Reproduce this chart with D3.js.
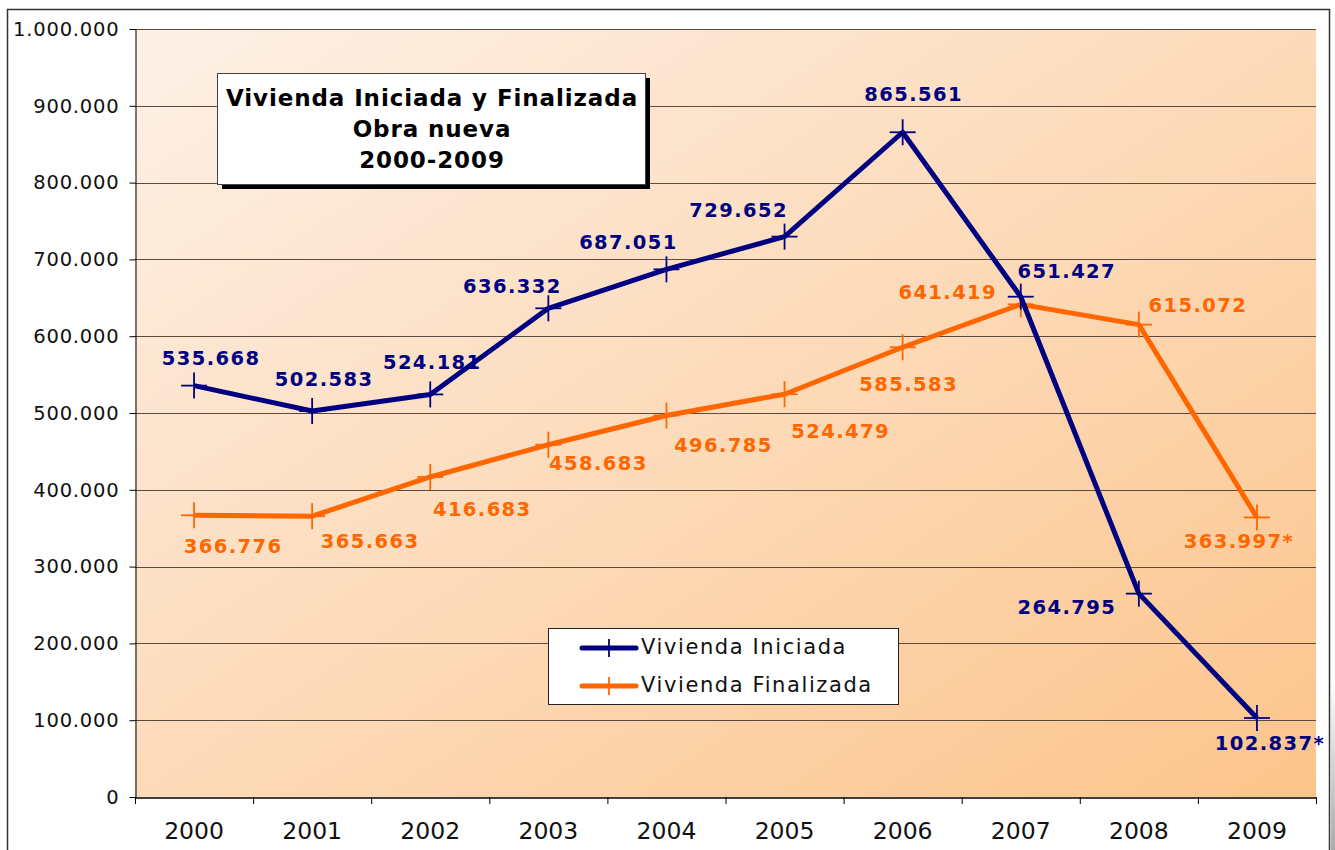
<!DOCTYPE html>
<html><head><meta charset="utf-8">
<script src="https://cdn.jsdelivr.net/npm/d3@7"></script>
<style>body{margin:0;background:#fff;}svg{display:block;font-family:"DejaVu Sans",Verdana,sans-serif;}</style>
</head><body>
<svg id="c" width="1335" height="850"></svg>
<script>
const years = ["2000","2001","2002","2003","2004","2005","2006","2007","2008","2009"];
const iniciada = [535668, 502583, 524181, 636332, 687051, 729652, 865561, 651427, 264795, 102837];
const finalizada = [366776, 365663, 416683, 458683, 496785, 524479, 585583, 641419, 615072, 363997];
const iniciadaLabels = ["535.668","502.583","524.181","636.332","687.051","729.652","865.561","651.427","264.795","102.837*"];
const finalizadaLabels = ["366.776","365.663","416.683","458.683","496.785","524.479","585.583","641.419","615.072","363.997*"];
const yTicks = [0,100000,200000,300000,400000,500000,600000,700000,800000,900000,1000000];
const seriesNames = ["Vivienda Iniciada","Vivienda Finalizada"];
const titleLines = ["Vivienda Iniciada y Finalizada","Obra nueva","2000-2009"];
// label placement offsets (layout, px) relative to each point
const iniOff = [[17,-26],[12,-31],[2,-31],[-36,-21],[-38,-26],[-46,-25],[11,-37],[46,-24],[-72,15],[13,26]];
const finOff = [[39,32],[58,26],[52,34],[50,20],[57,31],[56,38],[6,38],[-73,-11],[59,-18],[-18,25]];

const svg = d3.select("#c");
const L = 135, R = 1316, T = 29, B = 797;
const x = d3.scaleBand().domain(years).range([L, R]);
const y = d3.scaleLinear().domain([0, 1000000]).range([B, T]);
const fmt = v => v === 0 ? "0" : d3.format(",")(v).replace(/,/g, ".");

const defs = svg.append("defs");
const g1 = defs.append("linearGradient").attr("id","bg").attr("x1","0").attr("y1","0").attr("x2","1").attr("y2","1");
g1.append("stop").attr("offset","0%").attr("stop-color","#fdf1e7");
g1.append("stop").attr("offset","100%").attr("stop-color","#fcc48b");
const sh = defs.append("linearGradient").attr("id","sh").attr("x1","0").attr("y1","0").attr("x2","0").attr("y2","1");
sh.append("stop").attr("offset","0%").attr("stop-color","#fff");
sh.append("stop").attr("offset","100%").attr("stop-color","#aaa");

// outer frame
svg.append("rect").attr("x",1331).attr("y",680).attr("width",4).attr("height",170).attr("fill","url(#sh)");
svg.append("rect").attr("x",7.5).attr("y",9.5).attr("width",1322).attr("height",850).attr("fill","#fff").attr("stroke","#333").attr("stroke-width",1.5);

// plot area
svg.append("rect").attr("x",L).attr("y",T).attr("width",R-L).attr("height",B-T).attr("fill","url(#bg)");

// gridlines
svg.append("g").selectAll("line").data(yTicks.filter(d=>d>0)).join("line")
  .attr("x1",L).attr("x2",R).attr("y1",d=>Math.round(y(d))+0.5).attr("y2",d=>Math.round(y(d))+0.5)
  .attr("stroke","#5a4a40").attr("stroke-width",1.2);

// y axis
const ya = svg.append("g").attr("transform",`translate(${L+0.5},0)`)
  .call(d3.axisLeft(y).tickValues(yTicks).tickFormat(fmt).tickSize(6).tickSizeOuter(0));
ya.select(".domain").attr("stroke","#000");
ya.selectAll(".tick line").attr("stroke","#000");
ya.selectAll("text").attr("font-size",19.5).attr("fill","#111").attr("x",-16).attr("letter-spacing",0.8)
  .attr("font-family","'DejaVu Sans',Verdana,sans-serif");

// x axis
const xa = svg.append("g").attr("transform",`translate(0,${B+0.5})`)
  .call(d3.axisBottom(x).tickSize(0).tickSizeOuter(0));
xa.select(".domain").attr("stroke","#000").attr("stroke-width",1.5);
xa.selectAll("text").attr("font-size",23.5).attr("fill","#111").attr("dy","1.65em")
  .attr("font-family","'DejaVu Sans',Verdana,sans-serif");
// boundary ticks between categories
svg.append("g").selectAll("line").data(d3.range(years.length+1)).join("line")
  .attr("x1",i=>L+i*x.step()+0.5).attr("x2",i=>L+i*x.step()+0.5)
  .attr("y1",B).attr("y2",B+7).attr("stroke","#000").attr("stroke-width",1);

const cx = d => x(d) + x.bandwidth()/2;
const line = d3.line().x((d,i)=>cx(years[i])).y(d=>y(d));

function drawSeries(vals, color, labels, offs){
  svg.append("path").datum(vals).attr("d",line).attr("fill","none")
    .attr("stroke",color).attr("stroke-width",5).attr("stroke-linejoin","round");
  const m = svg.append("g");
  vals.forEach((v,i)=>{
    const px = cx(years[i]), py = y(v);
    m.append("line").attr("x1",px-13).attr("x2",px+13).attr("y1",py).attr("y2",py).attr("stroke",color).attr("stroke-width",1.8);
    m.append("line").attr("x1",px).attr("x2",px).attr("y1",py-13).attr("y2",py+13).attr("stroke",color).attr("stroke-width",1.8);
  });
  svg.append("g").selectAll("text").data(vals).join("text")
    .attr("x",(d,i)=>cx(years[i])+offs[i][0]).attr("y",(d,i)=>y(d)+offs[i][1])
    .attr("text-anchor","middle").attr("dominant-baseline","middle")
    .attr("font-size",19.5).attr("font-weight","bold").attr("letter-spacing",1.4)
    .attr("fill",color).text((d,i)=>labels[i]);
}
drawSeries(finalizada, "#ff6600", finalizadaLabels, finOff);
drawSeries(iniciada, "#000080", iniciadaLabels, iniOff);

// title box
const tb = svg.append("g");
tb.append("rect").attr("x",222).attr("y",78).attr("width",428).attr("height",111).attr("fill","#000");
tb.append("rect").attr("x",217.5).attr("y",73.5).attr("width",428).attr("height",111).attr("fill","#fff").attr("stroke","#444").attr("stroke-width",1);
tb.selectAll("text").data(titleLines).join("text")
  .attr("x",432).attr("y",(d,i)=>106+i*31).attr("text-anchor","middle")
  .attr("font-size",23).attr("font-weight","bold").attr("letter-spacing",0.9).attr("fill","#000").text(d=>d);

// legend
const lg = svg.append("g");
lg.append("rect").attr("x",548.5).attr("y",628.5).attr("width",350).attr("height",76).attr("fill","#fff").attr("stroke","#222").attr("stroke-width",1);
const lcol = ["#000080","#ff6600"];
seriesNames.forEach((n,i)=>{
  const ly = 648 + i*38;
  lg.append("line").attr("x1",582).attr("x2",636).attr("y1",ly).attr("y2",ly).attr("stroke",lcol[i]).attr("stroke-width",5).attr("stroke-linecap","round");
  lg.append("line").attr("x1",609).attr("x2",609).attr("y1",ly-9).attr("y2",ly+9).attr("stroke",lcol[i]).attr("stroke-width",1.8);
  lg.append("text").attr("x",641).attr("y",ly).attr("dominant-baseline","middle")
    .attr("font-size",21).attr("letter-spacing",1.6).attr("fill","#111").text(n);
});
</script>
</body></html>
